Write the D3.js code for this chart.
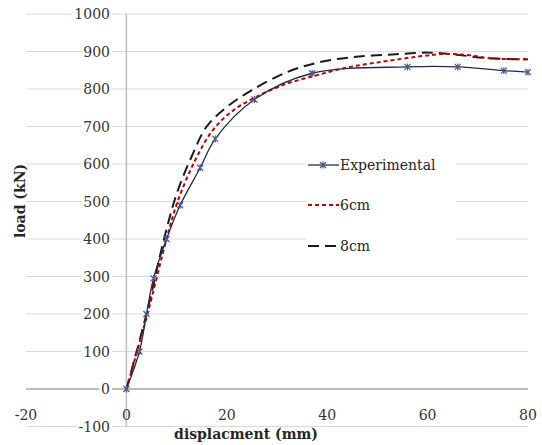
<!DOCTYPE html>
<html>
<head>
<meta charset="utf-8">
<script src="https://cdn.jsdelivr.net/npm/d3@7"></script>
<style>
  body { margin: 0; background: #fff; }
  svg { display: block; font-family: "DejaVu Serif", serif; }
</style>
</head>
<body>
<div id="chart"></div>
<script>
// displacement (mm) / load (kN)
const expX = [0, 2.6, 4.0, 5.4, 8.0, 10.7, 14.7, 17.7, 25.5, 37, 56, 66, 75.2, 80];
const expY = [0, 100, 200, 295, 400, 490, 590, 667, 772, 842, 859, 859, 849, 845];

const cm6X = [0, 4, 8, 10.2, 13.7, 17.2, 21, 25.3, 31.3, 38, 44.6, 51.2, 57.8, 63, 67.8, 72.4, 80];
const cm6Y = [0, 190, 400, 500, 610, 690, 740, 775, 811, 837, 859, 873, 886, 893, 891, 882, 879];

const cm8X = [0, 4, 7.5, 10, 13, 16, 20, 25, 32, 38, 45, 53, 60, 66, 72, 80];
const cm8Y = [0, 200, 400, 520, 620, 700, 752, 797, 845, 870, 885, 892, 897, 891, 882, 879];

const xTicks = [-20, 0, 20, 40, 60, 80];
const yTicks = [-100, 0, 100, 200, 300, 400, 500, 600, 700, 800, 900, 1000];

const width = 542, height = 445;

const svg = d3.select("#chart").append("svg")
  .attr("width", width)
  .attr("height", height);

svg.append("rect").attr("width", width).attr("height", height).attr("fill", "#fff");

const x = d3.scaleLinear().domain([-20, 80]).range([26, 528]);
const y = d3.scaleLinear().domain([-100, 1000]).range([426.5, 14]);

// gridlines
svg.append("g")
  .selectAll("line")
  .data(yTicks.filter((t) => t !== 0))
  .join("line")
  .attr("x1", x(-20))
  .attr("x2", x(80))
  .attr("y1", (d) => y(d))
  .attr("y2", (d) => y(d))
  .attr("stroke", "#d9d9d9")
  .attr("stroke-width", 1);

// axis lines crossing at zero
svg.append("line")
  .attr("x1", x(0)).attr("x2", x(0))
  .attr("y1", y(1000)).attr("y2", y(-100))
  .attr("stroke", "#bfbfbf").attr("stroke-width", 1.5);
svg.append("line")
  .attr("x1", x(-20)).attr("x2", x(80))
  .attr("y1", y(0)).attr("y2", y(0))
  .attr("stroke", "#a6a6a6").attr("stroke-width", 1.5);

// y tick labels with white backing
const yLabels = svg.append("g");
yLabels.selectAll("text")
  .data(yTicks)
  .join("text")
  .attr("x", 110)
  .attr("y", (d) => y(d) + 5)
  .attr("text-anchor", "end")
  .attr("font-size", 14)
  .attr("fill", "#333")
  .text((d) => d);
yLabels.selectAll("text").each(function () {
  const b = this.getBBox();
  yLabels.insert("rect", "text")
    .attr("x", b.x - 2).attr("y", b.y)
    .attr("width", b.width + 4).attr("height", b.height)
    .attr("fill", "#fff");
});

// x tick labels
svg.append("g")
  .selectAll("text")
  .data(xTicks)
  .join("text")
  .attr("x", (d) => x(d))
  .attr("y", 420)
  .attr("text-anchor", "middle")
  .attr("font-size", 14)
  .attr("fill", "#333")
  .text((d) => d);

// axis titles
svg.append("text")
  .attr("x", 246)
  .attr("y", 439)
  .attr("text-anchor", "middle")
  .attr("font-size", 14)
  .attr("font-weight", "bold")
  .attr("fill", "#262626")
  .text("displacment (mm)");

svg.append("text")
  .attr("transform", "translate(25,201) rotate(-90)")
  .attr("text-anchor", "middle")
  .attr("font-size", 14)
  .attr("font-weight", "bold")
  .attr("fill", "#262626")
  .text("load (kN)");

const line = d3.line()
  .x((d) => x(d[0]))
  .y((d) => y(d[1]))
  .curve(d3.curveCatmullRom.alpha(0.5));

const series = [
  { name: "8cm", pts: d3.zip(cm8X, cm8Y), color: "#1a1a1a", dash: "11,6", w: 2 },
  { name: "6cm", pts: d3.zip(cm6X, cm6Y), color: "#c00000", dash: "4,3", w: 2 },
  { name: "Experimental", pts: d3.zip(expX, expY), color: "#1f2d50", dash: null, w: 1.3 },
];

svg.append("g")
  .selectAll("path")
  .data(series)
  .join("path")
  .attr("d", (s) => line(s.pts))
  .attr("fill", "none")
  .attr("stroke", (s) => s.color)
  .attr("stroke-width", (s) => s.w)
  .attr("stroke-dasharray", (s) => s.dash);

const star = "M-3,-3L3,3M-3,3L3,-3M0,-3.5L0,3.5";
svg.append("g")
  .selectAll("path")
  .data(d3.zip(expX, expY))
  .join("path")
  .attr("transform", (d) => `translate(${x(d[0])},${y(d[1])})`)
  .attr("d", star)
  .attr("fill", "none")
  .attr("stroke", "#4a5a8c")
  .attr("stroke-width", 1.2);

// legend
const legendRows = [
  { name: "Experimental", color: "#1f2d50", dash: null, w: 1.3, mark: true, y: 165 },
  { name: "6cm", color: "#c00000", dash: "4,3", w: 2, mark: false, y: 205 },
  { name: "8cm", color: "#1a1a1a", dash: "11,6", w: 2, mark: false, y: 246 },
];
const legend = svg.append("g");
legendRows.forEach((r) => {
  const g = legend.append("g").attr("transform", `translate(0,${r.y})`);
  g.append("rect").attr("x", 306).attr("y", -9).attr("width", 150).attr("height", 18).attr("fill", "#fff");
  g.append("line")
    .attr("x1", 308).attr("x2", 339)
    .attr("stroke", r.color)
    .attr("stroke-width", r.w)
    .attr("stroke-dasharray", r.dash);
  if (r.mark) {
    g.append("path").attr("transform", "translate(323,0)").attr("d", star)
      .attr("fill", "none").attr("stroke", "#4a5a8c").attr("stroke-width", 1.2);
  }
  g.append("text")
    .attr("x", 340).attr("y", 5)
    .attr("font-size", 14)
    .attr("fill", "#262626")
    .text(r.name);
});
</script>
</body>
</html>
